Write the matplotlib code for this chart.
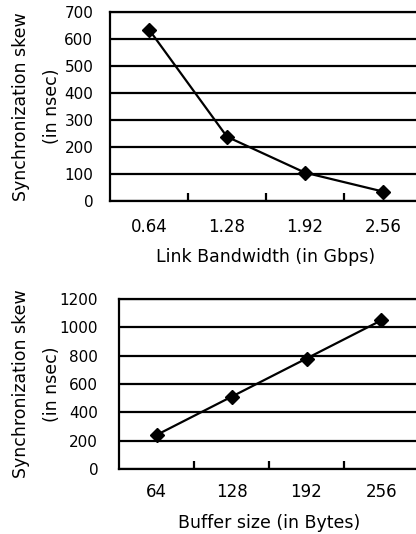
import matplotlib
matplotlib.use("Agg")
import matplotlib.pyplot as plt
from matplotlib.ticker import FixedLocator, NullFormatter

plt.rcParams["font.family"] = ["DejaVu Sans"]

bw_labels = ["0.64", "1.28", "1.92", "2.56"]
bw_skew = [635, 238, 105, 35]

buf_labels = ["64", "128", "192", "256"]
buf_skew = [240, 510, 780, 1050]

W, H = 416, 534
fig = plt.figure(figsize=(W / 100, H / 100), dpi=100)


def panel(rect_px, labels, values, ymax, ystep, xlabel, tick_y, xlab_y, tick_pad):
    l, t, r, b = rect_px
    ax = fig.add_axes([l / W, 1 - b / H, (r - l) / W, (b - t) / H])
    x = list(range(len(labels)))
    ax.plot(x, values, "k-", lw=1.6, marker="D", ms=7, mfc="black", mec="black")
    ax.set_xlim(-0.5, len(labels) - 0.5)
    ax.set_ylim(0, ymax)
    ax.set_yticks(range(0, ymax + 1, ystep))
    ax.yaxis.grid(True, color="black", lw=1.6)
    ax.set_axisbelow(True)
    ax.tick_params(axis="y", length=0, labelsize=11, pad=tick_pad)
    # category separators as small inward ticks, labels centred under categories
    ax.xaxis.set_major_locator(FixedLocator([0.5 + i for i in range(len(labels) - 1)]))
    ax.xaxis.set_major_formatter(NullFormatter())
    ax.tick_params(axis="x", direction="in", length=6, width=1.6)
    for i, lab in enumerate(labels):
        ax.text(i, 1 - (tick_y - t) / (b - t), lab, transform=ax.get_xaxis_transform(),
                ha="center", va="center", fontsize=12)
    ax.text(0.5, 1 - (xlab_y - t) / (b - t), xlabel, transform=ax.transAxes,
            ha="center", va="center", fontsize=12.5)
    for s in ("left", "top", "bottom"):
        ax.spines[s].set_linewidth(1.6)
    ax.spines["right"].set_visible(False)
    ax.set_ylabel("Synchronization skew\n(in nsec)", fontsize=12.5, va="center",
                  linespacing=1.95)
    ax.yaxis.set_label_coords(-(l - 36.5) / (r - l), 0.5)
    return ax


ax1 = panel((110, 12, 422, 201), bw_labels, bw_skew, 700, 100,
            "Link Bandwidth (in Gbps)", 227, 257, 12)
ax2 = panel((119, 299, 419, 469), buf_labels, buf_skew, 1200, 200,
            "Buffer size (in Bytes)", 492, 523, 15)

fig.savefig("out.png", dpi=100)
